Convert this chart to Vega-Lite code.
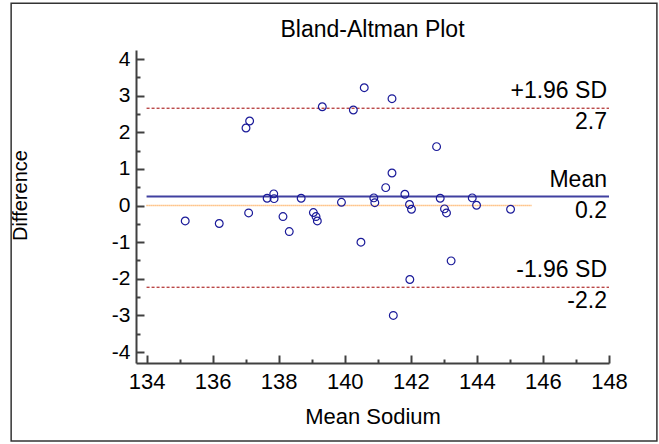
{
  "$schema": "https://vega.github.io/schema/vega-lite/v6.json",
  "width": 473,
  "height": 313,
  "autosize": {"type": "none"},
  "padding": {"left": 136, "top": 50, "right": 50, "bottom": 81},
  "background": "white",
  "title": {"text": "Bland-Altman Plot", "font": "Liberation Sans", "fontSize": 23, "fontWeight": "normal", "color": "#000000", "offset": 0, "dy": 40, "frame": "group"},
  "config": {"view": {"stroke": null}, "font": "Liberation Sans"},
  "encoding": {
    "x": {
      "field": "x", "type": "quantitative",
      "scale": {"domain": [133.68, 148], "nice": false, "zero": false},
      "axis": {
        "title": "Mean Sodium",
        "values": [134, 135, 136, 137, 138, 139, 140, 141, 142, 143, 144, 145, 146, 147, 148],
        "labelExpr": "datum.value % 2 === 0 ? '' + datum.value : ''",
        "tickSize": {"condition": {"test": "datum.value % 2 === 0", "value": -8}, "value": -4},
        "tickColor": "#404040", "tickWidth": 2,
        "domainColor": "#404040", "domainWidth": 2,
        "grid": false,
        "labelFont": "Liberation Sans", "labelFontSize": 22, "labelColor": "#000000",
        "labelPadding": 16, "labelOverlap": false, "labelFlush": false,
        "titleFont": "Liberation Sans", "titleFontSize": 22, "titleFontWeight": "normal", "titleColor": "#000000",
        "titlePadding": 10
      }
    },
    "y": {
      "field": "y", "type": "quantitative",
      "scale": {"domain": [-4.3, 4.25], "nice": false, "zero": false},
      "axis": {
        "title": "Difference",
        "values": [-4, -3.5, -3, -2.5, -2, -1.5, -1, -0.5, 0, 0.5, 1, 1.5, 2, 2.5, 3, 3.5, 4],
        "labelExpr": "datum.value % 1 === 0 ? '' + datum.value : ''",
        "tickSize": {"condition": {"test": "datum.value % 1 === 0", "value": -8}, "value": -4},
        "tickColor": "#404040", "tickWidth": 2,
        "domainColor": "#404040", "domainWidth": 2,
        "grid": false,
        "labelFont": "Liberation Sans", "labelFontSize": 21, "labelColor": "#000000",
        "labelPadding": 14, "labelOverlap": false, "labelFlush": false,
        "titleFont": "Liberation Sans", "titleFontSize": 20, "titleFontWeight": "normal", "titleColor": "#000000",
        "titlePadding": 81, "titleY": 145
      }
    }
  },
  "layer": [
    {
      "data": {"values": [{"x": 129.9, "x2": 149.45, "y": 5.53, "y2": -6.43}]},
      "mark": {"type": "rect", "fill": null, "stroke": "#333333", "strokeWidth": 1.5, "clip": false},
      "encoding": {
        "x2": {"field": "x2"},
        "y2": {"field": "y2"}
      }
    },
    {
      "data": {"values": [{"x": 134, "x2": 145.65, "y": 0}]},
      "mark": {"type": "rule", "stroke": "#ff9933", "strokeWidth": 1.5, "strokeDash": [1, 1]},
      "encoding": {
        "x2": {"field": "x2"}
      }
    },
    {
      "data": {"values": [{"x": 134, "x2": 148, "y": 0.245}]},
      "mark": {"type": "rule", "stroke": "#4040a0", "strokeWidth": 2},
      "encoding": {
        "x2": {"field": "x2"}
      }
    },
    {
      "data": {"values": [{"x": 134, "x2": 148, "y": 2.66}, {"x": 134, "x2": 148, "y": -2.23}]},
      "mark": {"type": "rule", "stroke": "#a00000", "strokeWidth": 1, "strokeDash": [3, 2]},
      "encoding": {
        "x2": {"field": "x2"}
      }
    },
    {
      "data": {"values": [
        {"x": 135.17, "y": -0.42}, {"x": 136.20, "y": -0.49}, {"x": 137.01, "y": 2.12},
        {"x": 137.12, "y": 2.31}, {"x": 137.09, "y": -0.20}, {"x": 137.65, "y": 0.20},
        {"x": 137.85, "y": 0.32}, {"x": 137.86, "y": 0.19}, {"x": 138.13, "y": -0.30},
        {"x": 138.32, "y": -0.71}, {"x": 138.68, "y": 0.20}, {"x": 139.05, "y": -0.19},
        {"x": 139.13, "y": -0.30}, {"x": 139.17, "y": -0.42}, {"x": 139.32, "y": 2.70},
        {"x": 139.90, "y": 0.09}, {"x": 140.26, "y": 2.61}, {"x": 140.49, "y": -1.00},
        {"x": 140.59, "y": 3.22}, {"x": 140.88, "y": 0.21}, {"x": 140.91, "y": 0.08},
        {"x": 141.24, "y": 0.49}, {"x": 141.43, "y": 2.92}, {"x": 141.43, "y": 0.89},
        {"x": 141.47, "y": -3.00}, {"x": 141.82, "y": 0.31}, {"x": 141.96, "y": 0.03},
        {"x": 142.02, "y": -0.10}, {"x": 141.97, "y": -2.02}, {"x": 142.78, "y": 1.61},
        {"x": 142.89, "y": 0.20}, {"x": 143.02, "y": -0.09}, {"x": 143.08, "y": -0.20},
        {"x": 143.22, "y": -1.51}, {"x": 143.86, "y": 0.21}, {"x": 143.99, "y": 0.01},
        {"x": 145.02, "y": -0.10}
      ]},
      "mark": {"type": "point", "shape": "circle", "filled": false, "size": 60, "stroke": "#1a1a99", "strokeWidth": 1.2, "opacity": 1}
    },
    {
      "data": {"values": [
        {"x": 148, "y": 2.66, "label": "+1.96 SD"},
        {"x": 148, "y": 0.245, "label": "Mean"},
        {"x": 148, "y": -2.23, "label": "-1.96 SD"}
      ]},
      "mark": {"type": "text", "align": "right", "baseline": "alphabetic", "dx": -2, "dy": -10, "font": "Liberation Sans", "fontSize": 23, "color": "#000000"},
      "encoding": {
        "text": {"field": "label"}
      }
    },
    {
      "data": {"values": [
        {"x": 148, "y": 2.66, "label": "2.7"},
        {"x": 148, "y": 0.245, "label": "0.2"},
        {"x": 148, "y": -2.23, "label": "-2.2"}
      ]},
      "mark": {"type": "text", "align": "right", "baseline": "top", "dx": -2, "dy": 3, "font": "Liberation Sans", "fontSize": 23, "color": "#000000"},
      "encoding": {
        "text": {"field": "label"}
      }
    }
  ]
}
